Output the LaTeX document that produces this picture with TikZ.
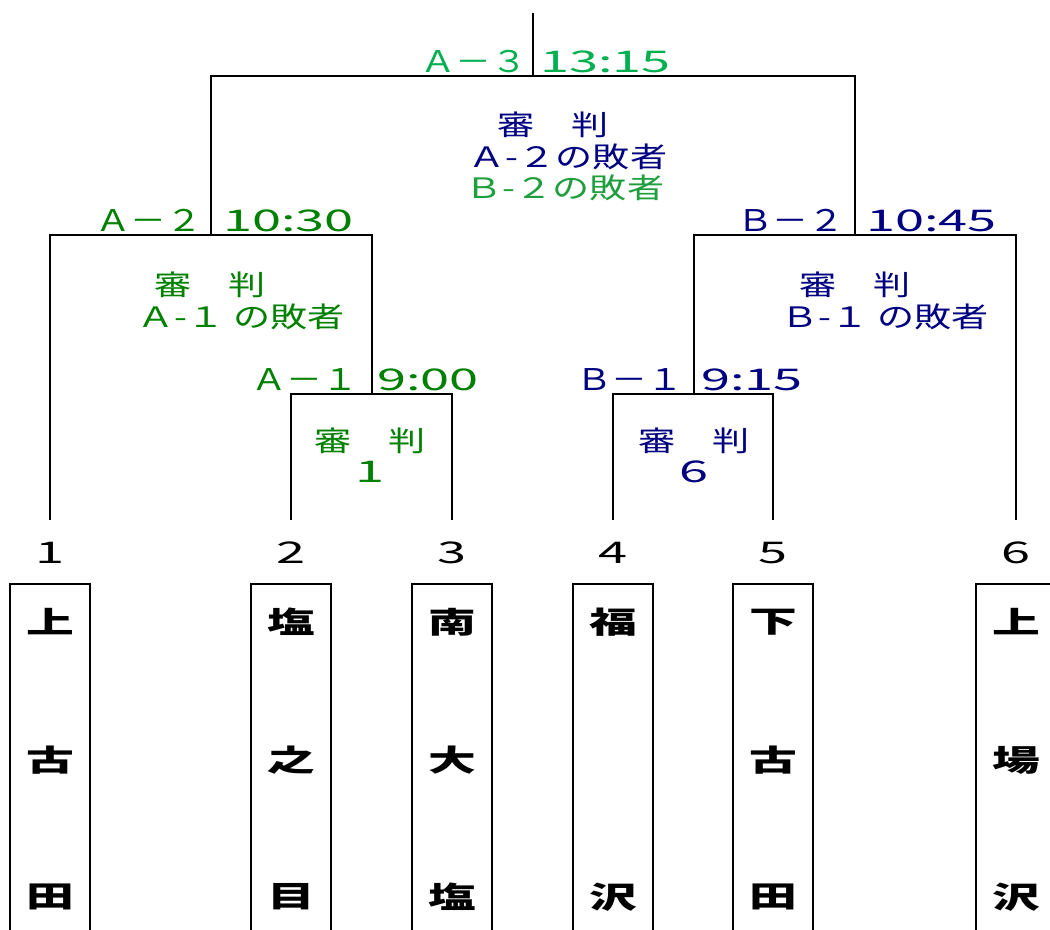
\documentclass[tikz,border=0pt]{standalone}
\usepackage{graphicx}
\usepackage{fontspec}
\newfontfamily\cjk{Noto Sans CJK JP}
\definecolor{topgreen}{HTML}{00B050}
\definecolor{agreen}{HTML}{008000}
\definecolor{bgreen}{HTML}{1E9E3C}
\definecolor{bblue}{HTML}{000080}
% stretched text, as the bracket sheet prints it
\newcommand{\widetxt}[1]{\scalebox{1.32}[1]{#1}}
\newcommand{\widelbl}[1]{\scalebox{1.2}[1]{#1}}
\newcommand{\widenum}[1]{\scalebox{1.75}[1]{#1}}
\newcommand{\wideteam}[1]{\scalebox{1.6}[1]{#1}}
\begin{document}
\begin{tikzpicture}[x=0.02cm,y=-0.02cm,
	every node/.style={inner sep=0pt},
	txt/.style={font=\cjk\fontsize{16}{19}\selectfont},
	lbl/.style={font=\cjk\fontsize{17}{20}\selectfont},
	team/.style={font=\cjk\bfseries\fontsize{17}{19}\selectfont},
	bracket/.style={line width=1.2pt}]
	\useasboundingbox (0,0) rectangle (1050,929);
	\clip (0,0) rectangle (1050,929);

	% joints of the bracket
	\coordinate (t0) at (533,13);
	\coordinate (t1) at (533,76);
	\coordinate (a2) at (211,235);
	\coordinate (b2) at (855,235);
	\coordinate (a1) at (372,394);
	\coordinate (b1) at (694,394);

	% schools
	\foreach \x/\i/\ta/\tb/\tc in {50/1/上/古/田, 291/2/塩/之/目, 452/3/南/大/塩,
		613/4/福//沢, 773/5/下/古/田, 1016/6/上/場/沢}{
		\coordinate (l\i) at (\x,520);
		\node [lbl] (n\i) at (\x,553) {\widenum{\i}};
		\draw [bracket] (\x-40,950) |- (\x+40,584) -- (\x+40,950);
		\node [team] (s\i a) at (\x,622) {\wideteam{\ta}};
		\node [team] (s\i b) at (\x,760) {\wideteam{\tb}};
		\node [team] (s\i c) at (\x,897) {\wideteam{\tc}};
	}

	\draw [bracket] (t0) -- (t1);
	\draw [bracket] (a2) |- (t1) -| (b2);
	\draw [bracket] (l1) |- (a2) -| (a1);
	\draw [bracket] (l2) |- (a1) -| (l3);
	\draw [bracket] (b1) |- (b2) -| (l6);
	\draw [bracket] (l4) |- (b1) -| (l5);

	% final
	\node [lbl,topgreen,anchor=base east] (m3) at (528,73) {\widelbl{Ａ－３}};
	\node [lbl,topgreen,anchor=base west] (m3t) at (540,73) {\widenum{13:15}};
	\node [txt,bblue] (m3j) at (553,125) {\widetxt{審　判}};
	\node [txt,bblue] (m3r1) at (568,157) {\widetxt{Ａ-２の敗者}};
	\node [txt,bgreen] (m3r2) at (565,188) {\widetxt{Ｂ-２の敗者}};

	% A block
	\node [lbl,agreen,anchor=base east] (ma2) at (203,231) {\widelbl{Ａ－２}};
	\node [lbl,agreen,anchor=base west] (ma2t) at (223,231) {\widenum{10:30}};
	\node [txt,agreen] (ma2j) at (210,285) {\widetxt{審　判}};
	\node [txt,agreen] (ma2r) at (241,317) {\widetxt{Ａ-１ の敗者}};
	\node [lbl,agreen,anchor=base east] (ma1) at (359,390) {\widelbl{Ａ－１}};
	\node [lbl,agreen,anchor=base west] (ma1t) at (377,390) {\widenum{9:00}};
	\node [txt,agreen] (ma1j) at (370,441) {\widetxt{審　判}};
	\node [lbl,agreen] (ma1r) at (370,472) {\widenum{1}};

	% B block
	\node [lbl,bblue,anchor=base east] (mb2) at (845,231) {\widelbl{Ｂ－２}};
	\node [lbl,bblue,anchor=base west] (mb2t) at (866,231) {\widenum{10:45}};
	\node [txt,bblue] (mb2j) at (855,285) {\widetxt{審　判}};
	\node [txt,bblue] (mb2r) at (885,317) {\widetxt{Ｂ-１ の敗者}};
	\node [lbl,bblue,anchor=base east] (mb1) at (684,390) {\widelbl{Ｂ－１}};
	\node [lbl,bblue,anchor=base west] (mb1t) at (701,390) {\widenum{9:15}};
	\node [txt,bblue] (mb1j) at (694,441) {\widetxt{審　判}};
	\node [lbl,bblue] (mb1r) at (694,472) {\widenum{6}};
\end{tikzpicture}
\end{document}
